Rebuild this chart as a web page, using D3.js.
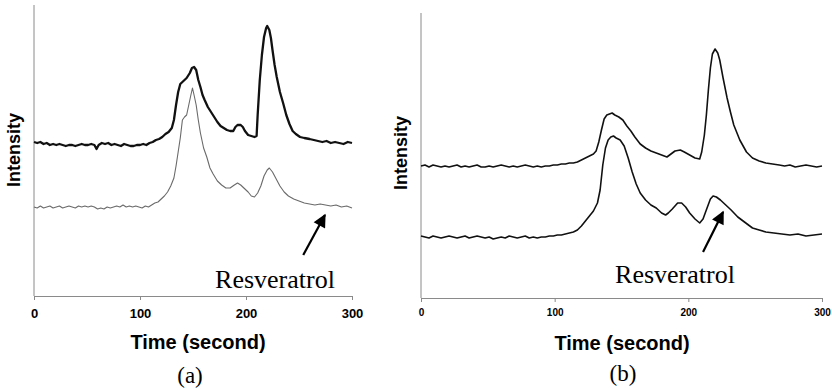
<!DOCTYPE html>
<html>
<head>
<meta charset="utf-8">
<script src="https://cdn.jsdelivr.net/npm/d3@7"></script>
<style>
  html, body { margin: 0; padding: 0; background: #fff; }
  svg { display: block; }
</style>
</head>
<body>
<svg id="chart" width="832" height="390"></svg>
<script>
// ---------- DATA (time in seconds, intensity in arbitrary units) ----------
const xTicks = [0, 100, 200, 300];
const xLabel = "Time (second)";
const yLabel = "Intensity";
const annotation = "Resveratrol";
const panelLabels = ["(a)", "(b)"];

// Panel (a), upper trace (bold black)
const timeA1 = [0,3,6,9,12,15,18,21,24,27,30,33,36,39,42,45,48,51,54,57,59,61,64,67,70,73,76,79,82,85,88,91,94,97,100,103,106,109,112,115,118,121,124,127,130,132,134,136,138,141,144,147,149,151,153,155,157,159,161,164,167,170,173,176,179,182,185,188,190,192,195,197,199,202,205,208,210,211,213,215,217,219,220,222,223.5,225,227,229,232,235,238,241,244,247,251,255,260,264,268,272,276,280,284,288,292,296,300];
const intA1 = [154,153,154,152,153,151,152,151,152,151,150,151,151,150,151,152,151,151,152,151,147,151,153,152,153,151,152,151,150,152,151,150,150,151,151,152,151,153,154,156,157,159,162,164,168,176,191,204,212,215,218,223,228,229,226,216,209,201,196,189,184,179,174,170,168,166,165,165,169,171,171,169,165,161,160,159,160,181,216,241,259,268,270,266,258,246,231,219,204,193,181,172,165,162,159,158,157,156,155,154,155,153,154,153,152,154,153];

// Panel (a), lower trace (thin grey)
const timeA2 = [0,3,6,9,12,15,18,21,24,27,30,33,36,39,42,45,48,51,54,57,60,63,66,69,72,75,78,81,84,87,90,93,96,99,102,105,108,111,114,117,120,123,126,129,132,134,136,138,140,142,144,146,148,149.5,151,153,155,157,160,163,166,169,173,177,181,185,189,192,195,198,202,205,208,211,214,217,220,222,225,228,232,236,240,245,250,255,260,265,270,275,280,285,290,295,300];
const intA2 = [89,88,90,88,89,90,88,89,90,88,89,90,89,88,90,89,90,89,90,89,87,88,87,89,88,89,90,89,91,89,90,89,90,89,88,90,89,91,93,94,97,100,104,110,118,130,144,158,176,179,181,191,201,208,201,191,176,163,148,139,128,122,115,111,108,108,111,113,111,108,104,100,99,103,110,120,126,128,124,118,110,104,100,97,95,93,92,91,92,91,90,91,89,90,88];

// Panel (b), upper trace
const timeB1 = [0,3,6,9,12,15,18,21,24,27,30,33,36,39,42,45,48,51,54,57,60,63,66,69,72,75,78,81,84,87,90,93,96,99,102,105,108,111,114,117,120,123,126,129,131,133,135,137,139,141,143,145,148,151,154,157,160,164,168,172,176,180,184,187,190,194,197,201,205,208.5,210,212,213.5,215,216.5,218,220,222,223.5,226,229,231.5,234,238.5,243.5,248,253,258,263,268,272,276,280,284,288,292,296,300];
const intB1 = [132,133,131,133,132,131,132,131,132,133,131,132,131,132,133,131,131,132,131,132,133,132,131,132,131,132,133,132,131,132,131,132,132,133,133,134,134,135,135,136,138,140,142,144,147,156,168,179,183,184,185,183,181,178,172,167,161,154,150,147,145,143,141,144,147,148,146,143,140,139,146,163,183,208,230,244,249,245,238,220,200,186,173,158,146,140,137,135,134,133,132,133,131,132,133,132,131,132];

// Panel (b), lower trace
const timeB2 = [0,3,6,9,12,15,18,21,24,27,30,33,36,39,42,45,48,51,54,57,60,63,66,69,72,75,78,81,84,87,90,93,96,99,102,105,108,111,114,117,120,123,126,129,132,134,136,138,140,142,144,146,149,152,155,158,161,164,168,172,176,180,183,185,188,192,195,198,201,205,208.5,211,214,216.5,218.5,221,224,228,232,237,242,248,253,258,264,270,276,282,288,294,300];
const intB2 = [62,61,60,62,61,60,61,62,61,60,61,62,60,61,62,61,60,61,59,60,61,60,62,61,60,61,62,60,61,60,61,61,62,62,63,63,64,65,66,68,72,77,82,87,95,108,133,150,158,161,162,160,158,152,140,126,114,105,98,93,90,85,83,85,89,95,95,91,85,79,75,79,90,99,102,101,98,93,88,81,76,70,68,66,65,64,63,64,62,63,64];

// Arrow annotations: [tailTime, tailIntensity, tipTime, tipIntensity]
const arrowA = [254, 41, 274.5, 81];
const arrowB = [211, 46, 226, 86];

// ---------- DRAWING ----------
const svg = d3.select("#chart");

svg.append("defs").append("marker")
  .attr("id", "arrowhead")
  .attr("viewBox", "0 0 10 10")
  .attr("refX", 9).attr("refY", 5)
  .attr("markerUnits", "userSpaceOnUse")
  .attr("markerWidth", 14).attr("markerHeight", 13)
  .attr("orient", "auto")
  .append("path").attr("d", "M0,0 L10,5 L0,10 Z").attr("fill", "#000");

function panel(cfg) {
  const x = d3.scaleLinear().domain([0, 300]).range([cfg.left, cfg.right]);
  const y = d3.scaleLinear().domain([0, cfg.ymax]).range([cfg.bottom, cfg.top]);
  const g = svg.append("g");

  // y axis line (no ticks)
  g.append("line")
    .attr("x1", x(0)).attr("x2", x(0))
    .attr("y1", y(cfg.ymax)).attr("y2", y(0))
    .attr("stroke", "#8a8a8a").attr("stroke-width", 1);

  // x axis
  const xAxis = d3.axisBottom(x).tickValues(xTicks).tickSize(4).tickSizeOuter(0).tickPadding(cfg.tickPad);
  const ax = g.append("g").attr("transform", `translate(0,${y(0)})`).call(xAxis);
  ax.select(".domain").attr("stroke", "#8a8a8a");
  ax.selectAll(".tick line").attr("stroke", "#8a8a8a");
  ax.selectAll(".tick text")
    .attr("fill", "#000")
    .style("font-family", "'Liberation Sans', Arial, sans-serif")
    .style("font-weight", "bold")
    .style("font-size", cfg.tickFont + "px");

  const line = d3.line().x(d => x(d[0])).y(d => y(d[1]));
  cfg.series.forEach(s => {
    g.append("path")
      .datum(s.t.map((t, i) => [t, s.v[i]]))
      .attr("d", line)
      .attr("fill", "none")
      .attr("stroke", s.color)
      .attr("stroke-width", s.width)
      .attr("stroke-linejoin", "round");
  });

  // arrow
  const a = cfg.arrow;
  g.append("line")
    .attr("x1", x(a[0])).attr("y1", y(a[1]))
    .attr("x2", x(a[2])).attr("y2", y(a[3]))
    .attr("stroke", "#000").attr("stroke-width", 2.2)
    .attr("marker-end", "url(#arrowhead)");

  // annotation text
  g.append("text")
    .attr("x", cfg.annX).attr("y", cfg.annY)
    .attr("text-anchor", "middle")
    .style("font-family", "'Liberation Serif', 'Times New Roman', serif")
    .style("font-size", "26px")
    .attr("fill", "#000")
    .text(annotation);

  // axis titles
  g.append("text")
    .attr("x", cfg.xTitleX).attr("y", cfg.xTitleY)
    .attr("text-anchor", "middle")
    .style("font-family", "'Liberation Sans', Arial, sans-serif")
    .style("font-weight", "bold").style("font-size", "20px")
    .text(xLabel);

  g.append("text")
    .attr("transform", `translate(${cfg.yTitleX},${cfg.yTitleY}) rotate(-90)`)
    .attr("text-anchor", "middle")
    .style("font-family", "'Liberation Sans', Arial, sans-serif")
    .style("font-weight", "bold").style("font-size", "18px")
    .text(yLabel);

  g.append("text")
    .attr("x", cfg.labX).attr("y", cfg.labY)
    .attr("text-anchor", "middle")
    .style("font-family", "'Liberation Serif', 'Times New Roman', serif")
    .style("font-size", "23px")
    .text(cfg.label);
}

panel({
  left: 34, right: 352, top: 5, bottom: 296, ymax: 291,
  tickFont: 13, tickPad: 9,
  series: [
    { t: timeA1, v: intA1, color: "#111", width: 2.3 },
    { t: timeA2, v: intA2, color: "#6a6a6a", width: 1.1 }
  ],
  arrow: arrowA,
  annX: 275, annY: 288,
  xTitleX: 198, xTitleY: 349,
  yTitleX: 20, yTitleY: 150,
  labX: 190, labY: 383, label: panelLabels[0]
});

panel({
  left: 421, right: 822, top: 13, bottom: 298, ymax: 285,
  tickFont: 10, tickPad: 7,
  series: [
    { t: timeB1, v: intB1, color: "#111", width: 1.6 },
    { t: timeB2, v: intB2, color: "#111", width: 1.6 }
  ],
  arrow: arrowB,
  annX: 675, annY: 283,
  xTitleX: 622, xTitleY: 350,
  yTitleX: 407, yTitleY: 153,
  labX: 623, labY: 381, label: panelLabels[1]
});
</script>
</body>
</html>
